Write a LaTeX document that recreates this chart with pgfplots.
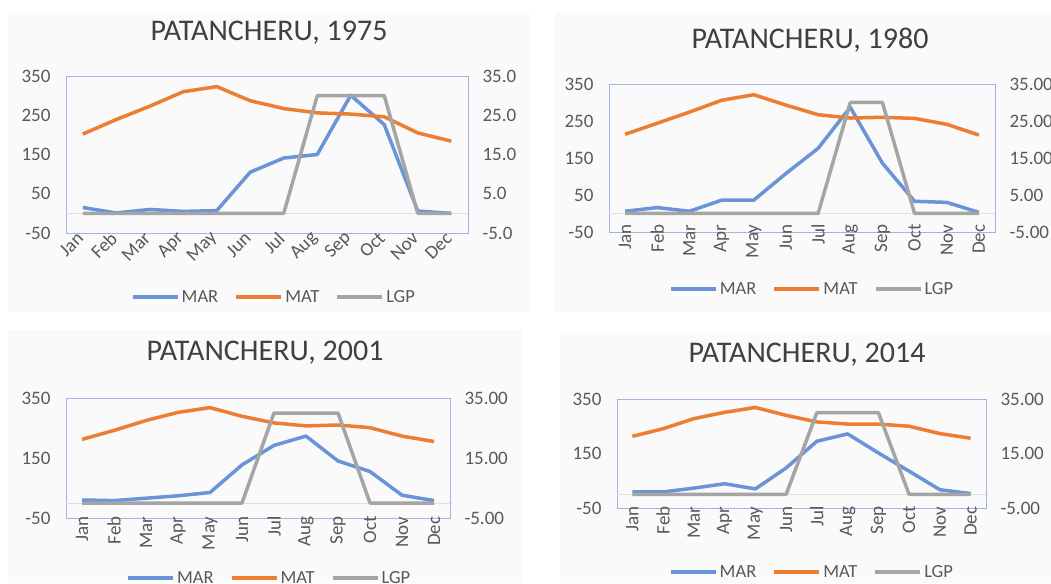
\documentclass[border=0pt]{standalone}
\usepackage{fontspec}
\setmainfont{Carlito}
\usepackage{pgfplots}
\pgfplotsset{compat=1.18}
\definecolor{marblue}{HTML}{6A93D8}
\definecolor{matorange}{HTML}{ED7D31}
\definecolor{lgpgray}{HTML}{A5A5A5}
\definecolor{borderblue}{HTML}{9DB5E0}
\definecolor{ticktext}{HTML}{595959}
\definecolor{titletext}{HTML}{404040}
\definecolor{panelbg}{HTML}{FAFAFA}
\pgfplotsset{
  chartbase/.style={
    scale only axis, anchor=south west,
    xmin=-0.5, xmax=11.5,
    major tick length=0pt,
    tick label style={font=\fontsize{19}{19}\selectfont, text=ticktext},
    /pgf/number format/assume math mode=true,
  },
  leftax/.style={
    chartbase,
    ymin=-50, ymax=350,
    xtick={0,...,11},
    xticklabels={Jan,Feb,Mar,Apr,May,Jun,Jul,Aug,Sep,Oct,Nov,Dec},
    ytick pos=left,
    axis line style={draw=borderblue, line width=0.8pt},
    yticklabel shift=12pt,
    extra y ticks={0}, extra y tick labels={},
    extra y tick style={grid=major, major grid style={draw=black!12, line width=0.8pt}},
  },
  rightax/.style={
    chartbase,
    ymin=-5, ymax=35,
    hide x axis,
    axis y line*=right,
    y axis line style={draw=none},
    yticklabel shift=11pt,
    legend columns=3,
    legend image code/.code={\draw[##1, line width=4pt, line cap=butt] (0pt,0pt) -- (45pt,0pt);},
    legend style={draw=none, fill=none, anchor=center,
      font=\fontsize{18.5}{18.5}\selectfont, text=ticktext,
      nodes={inner sep=2pt},
      /tikz/every even column/.append style={column sep=14pt}},
  },
  marline/.style={color=marblue, line width=3.5pt, line join=round},
  matline/.style={color=matorange, line width=3.5pt, line join=round},
  lgpline/.style={color=lgpgray, line width=3.5pt, line join=round},
}
\begin{document}
\begin{tikzpicture}
\useasboundingbox (0pt,0pt) rectangle (1051pt,583pt);
\fill[white] (0pt,0pt) rectangle (1051pt,583pt);
\fill[panelbg] (8pt,271pt) rectangle (530pt,571pt);
\fill[panelbg] (555pt,271pt) rectangle (1051pt,571pt);
\fill[panelbg] (8pt,0pt) rectangle (522pt,253pt);
\fill[panelbg] (560pt,0pt) rectangle (1051pt,251pt);

\node[font=\fontsize{30}{30}\selectfont, text=titletext] at (269pt,550pt) {PATANCHERU, 1975};
\node[font=\fontsize{30}{30}\selectfont, text=titletext] at (810pt,543pt) {PATANCHERU, 1980};
\node[font=\fontsize{30}{30}\selectfont, text=titletext] at (265pt,230pt) {PATANCHERU, 2001};
\node[font=\fontsize{30}{30}\selectfont, text=titletext] at (807pt,228pt) {PATANCHERU, 2014};

% ---------- Panel 1: 1975 ----------
\begin{axis}[leftax, at={(66pt,350pt)}, width=402pt, height=157pt,
  ytick={-50,50,150,250,350},
  xticklabel style={rotate=45, anchor=east}, xticklabel shift=0pt]
\addplot[marline] coordinates {(0,15) (1,1) (2,10) (3,5) (4,7) (5,105) (6,141) (7,150) (8,301) (9,226) (10,6) (11,0)};
\end{axis}
\begin{axis}[rightax, at={(66pt,350pt)}, width=402pt, height=157pt,
  ytick={-5,5,15,25,35},
  yticklabel style={/pgf/number format/.cd, fixed, fixed zerofill, precision=1},
  legend style={at={(0.517,-0.408)}}]
\addlegendimage{marline}\addlegendentry{MAR}
\addplot[matline] coordinates {(0,20.2) (1,23.9) (2,27.3) (3,31.0) (4,32.3) (5,28.7) (6,26.7) (7,25.6) (8,25.3) (9,24.6) (10,20.5) (11,18.4)};
\addlegendentry{MAT}
\addplot[lgpline] coordinates {(0,0) (1,0) (2,0) (3,0) (4,0) (5,0) (6,0) (7,30) (8,30) (9,30) (10,0) (11,0)};
\addlegendentry{LGP}
\end{axis}

% ---------- Panel 2: 1980 ----------
\begin{axis}[leftax, at={(609pt,351pt)}, width=386pt, height=148pt,
  ytick={-50,50,150,250,350},
  xticklabel style={rotate=90, anchor=east}, xticklabel shift=-11pt]
\addplot[marline] coordinates {(0,6) (1,16) (2,6) (3,36) (4,36) (5,108) (6,176) (7,287) (8,136) (9,33) (10,30) (11,3)};
\end{axis}
\begin{axis}[rightax, at={(609pt,351pt)}, width=386pt, height=148pt,
  ytick={-5,5,15,25,35},
  yticklabel style={/pgf/number format/.cd, fixed, fixed zerofill, precision=2},
  legend style={at={(0.526,-0.385)}}]
\addlegendimage{marline}\addlegendentry{MAR}
\addplot[matline] coordinates {(0,21.4) (1,24.4) (2,27.4) (3,30.6) (4,32.1) (5,29.3) (6,26.7) (7,25.8) (8,26.0) (9,25.7) (10,24.1) (11,21.2)};
\addlegendentry{MAT}
\addplot[lgpline] coordinates {(0,0) (1,0) (2,0) (3,0) (4,0) (5,0) (6,0) (7,30) (8,30) (9,0) (10,0) (11,0)};
\addlegendentry{LGP}
\end{axis}

% ---------- Panel 3: 2001 ----------
\begin{axis}[leftax, at={(66pt,65pt)}, width=384pt, height=120pt,
  ytick={-50,150,350},
  xticklabel style={rotate=90, anchor=east}, xticklabel shift=-5pt]
\addplot[marline] coordinates {(0,10) (1,8) (2,16) (3,24) (4,35) (5,127) (6,192) (7,223) (8,140) (9,105) (10,26) (11,8)};
\end{axis}
\begin{axis}[rightax, at={(66pt,65pt)}, width=384pt, height=120pt,
  ytick={-5,15,35},
  yticklabel style={/pgf/number format/.cd, fixed, fixed zerofill, precision=2},
  legend style={at={(0.529,-0.5)}}]
\addlegendimage{marline}\addlegendentry{MAR}
\addplot[matline] coordinates {(0,21.2) (1,24.2) (2,27.5) (3,30.2) (4,31.8) (5,28.9) (6,26.7) (7,25.7) (8,26.0) (9,25.1) (10,22.3) (11,20.5)};
\addlegendentry{MAT}
\addplot[lgpline] coordinates {(0,0) (1,0) (2,0) (3,0) (4,0) (5,0) (6,30) (7,30) (8,30) (9,0) (10,0) (11,0)};
\addlegendentry{LGP}
\end{axis}

% ---------- Panel 4: 2014 ----------
\begin{axis}[leftax, at={(617pt,75pt)}, width=369pt, height=109pt,
  ytick={-50,150,350},
  xticklabel style={rotate=90, anchor=east}, xticklabel shift=-5pt]
\addplot[marline] coordinates {(0,9) (1,9) (2,23) (3,39) (4,20) (5,97) (6,195) (7,222) (8,152) (9,85) (10,17) (11,3)};
\end{axis}
\begin{axis}[rightax, at={(617pt,75pt)}, width=369pt, height=109pt,
  ytick={-5,15,35},
  yticklabel style={/pgf/number format/.cd, fixed, fixed zerofill, precision=2},
  legend style={at={(0.528,-0.587)}}]
\addlegendimage{marline}\addlegendentry{MAR}
\addplot[matline] coordinates {(0,21.3) (1,24.1) (2,27.8) (3,30.1) (4,31.9) (5,29.0) (6,26.6) (7,25.8) (8,25.8) (9,25.0) (10,22.3) (11,20.6)};
\addlegendentry{MAT}
\addplot[lgpline] coordinates {(0,0) (1,0) (2,0) (3,0) (4,0) (5,0) (6,30) (7,30) (8,30) (9,0) (10,0) (11,0)};
\addlegendentry{LGP}
\end{axis}
\end{tikzpicture}
\end{document}
